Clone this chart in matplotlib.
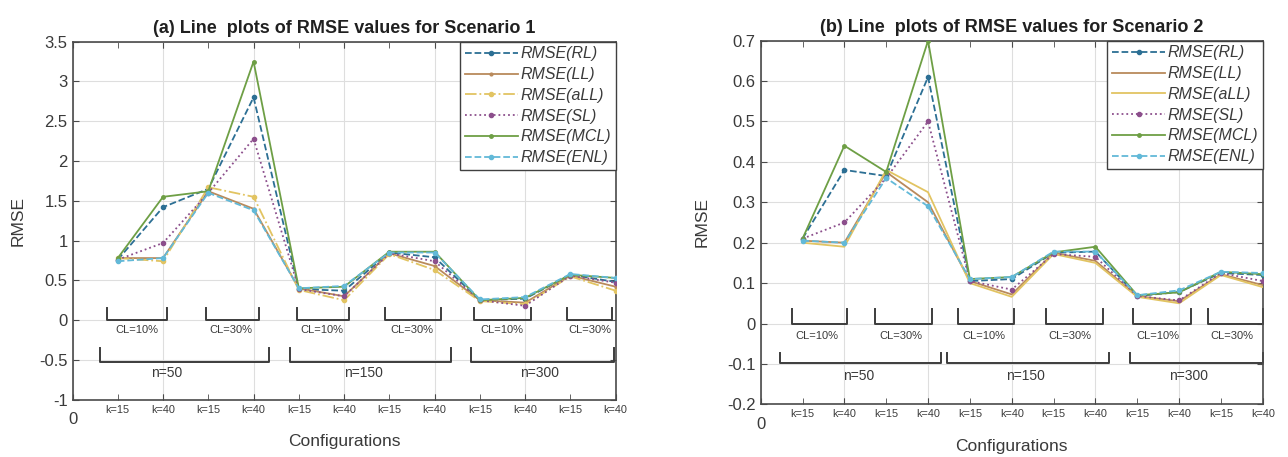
from __future__ import annotations

import numpy as np
import matplotlib
matplotlib.use("Agg")
import matplotlib.pyplot as plt
from matplotlib.ticker import FuncFormatter

plt.rcParams["font.family"] = ["Liberation Sans", "DejaVu Sans"]

# configurations 1..12: n=50/150/300 x CL=10%/30% x k=15/40
configs = np.arange(1, 13)
k_labels = ["k=15", "k=40"] * 6
series_names = ["RMSE(RL)", "RMSE(LL)", "RMSE(aLL)", "RMSE(SL)", "RMSE(MCL)", "RMSE(ENL)"]

# Scenario 1
s1_rl = [0.76, 1.42, 1.65, 2.80, 0.39, 0.37, 0.85, 0.79, 0.25, 0.27, 0.57, 0.48]
s1_ll = [0.78, 0.78, 1.62, 1.40, 0.40, 0.30, 0.84, 0.68, 0.25, 0.22, 0.56, 0.42]
s1_all = [0.78, 0.74, 1.67, 1.55, 0.38, 0.25, 0.83, 0.63, 0.24, 0.20, 0.55, 0.37]
s1_sl = [0.76, 0.97, 1.60, 2.28, 0.39, 0.30, 0.84, 0.74, 0.25, 0.18, 0.56, 0.47]
s1_mcl = [0.78, 1.55, 1.62, 3.25, 0.40, 0.42, 0.86, 0.86, 0.25, 0.28, 0.57, 0.53]
s1_enl = [0.74, 0.78, 1.60, 1.38, 0.40, 0.43, 0.85, 0.85, 0.26, 0.29, 0.58, 0.53]

# Scenario 2
s2_rl = [0.21, 0.38, 0.365, 0.61, 0.105, 0.11, 0.175, 0.178, 0.068, 0.078, 0.125, 0.12]
s2_ll = [0.205, 0.20, 0.375, 0.30, 0.105, 0.072, 0.175, 0.155, 0.068, 0.055, 0.122, 0.095]
s2_all = [0.20, 0.19, 0.38, 0.325, 0.10, 0.066, 0.172, 0.15, 0.066, 0.05, 0.12, 0.09]
s2_sl = [0.21, 0.25, 0.36, 0.50, 0.105, 0.084, 0.172, 0.165, 0.068, 0.057, 0.125, 0.105]
s2_mcl = [0.21, 0.44, 0.375, 0.70, 0.11, 0.115, 0.176, 0.19, 0.07, 0.077, 0.128, 0.122]
s2_enl = [0.205, 0.20, 0.36, 0.29, 0.11, 0.115, 0.178, 0.178, 0.07, 0.082, 0.128, 0.125]

cl_labels = ["CL=10%", "CL=30%"] * 3
n_labels = ["n=50", "n=150", "n=300"]

COLORS = ["#2c6f94", "#b98a5c", "#e2c462", "#8c4f8c", "#6e9f45", "#62b9d8"]
AXIS_COLOR = "#4a4a4a"
TEXT_COLOR = "#3a3a3a"


def draw_bracket(ax, x0, x1, top, base):
    ax.plot([x0, x0, x1, x1], [top, base, base, top], color="#3c3c3c",
            lw=1.4, clip_on=False, zorder=1)


def plot_panel(ax, data, styles, title, ylim, ystep, cl_spec, n_spec, ylabel_x):
    for vals, name, color, (ls, ms) in zip(data, series_names, COLORS, styles):
        ax.plot(configs, vals, linestyle=ls, color=color, lw=1.3,
                marker="." if ms else None, markersize=ms,
                markerfacecolor=color, markeredgecolor=color, label=name, zorder=3)

    ax.set_xlim(0, 12)
    ax.set_ylim(*ylim)
    ax.set_yticks(np.arange(ylim[0], ylim[1] + ystep / 2, ystep))
    ax.yaxis.set_major_formatter(FuncFormatter(lambda v, p: f"{round(v, 3):g}"))

    ax.set_xticks(np.arange(0, 13, 2))
    ax.set_xticklabels(["0"] + [""] * 6)
    ax.xaxis.remove_overlapping_locs = False
    ax.set_xticks(configs, minor=True)
    ax.set_xticklabels(k_labels, minor=True)

    ax.grid(True, which="major", color="#dedede", lw=0.8)
    ax.set_axisbelow(True)
    ax.tick_params(which="both", direction="in", top=True, right=True,
                   color=AXIS_COLOR, labelcolor=TEXT_COLOR, length=4)
    ax.tick_params(axis="y", labelsize=12)
    ax.tick_params(axis="x", which="major", labelsize=12, pad=9)
    ax.tick_params(axis="x", which="minor", labelsize=7.8, pad=3.5)
    for sp in ax.spines.values():
        sp.set_color(AXIS_COLOR)
        sp.set_linewidth(1.2)

    # configuration brackets
    (cl_spans, cl_top, cl_base, cl_x, cl_y) = cl_spec
    for (x0, x1), lx, lab in zip(cl_spans, cl_x, cl_labels):
        draw_bracket(ax, x0, x1, cl_top, cl_base)
        ax.text(lx, cl_y, lab, ha="center", va="center", fontsize=8, color=TEXT_COLOR)
    (n_spans, n_top, n_base, n_x, n_y) = n_spec
    for (x0, x1), lx, lab in zip(n_spans, n_x, n_labels):
        draw_bracket(ax, x0, x1, n_top, n_base)
        ax.text(lx, n_y, lab, ha="center", va="center", fontsize=10, color=TEXT_COLOR)

    ax.set_title(title, fontsize=13, fontweight="bold", color="#202020", pad=6)
    ax.set_ylabel("RMSE", fontsize=12.5, color=TEXT_COLOR)
    ax.yaxis.set_label_coords(ylabel_x, 0.5)
    ax.set_xlabel("Configurations", fontsize=12.5, color=TEXT_COLOR, labelpad=5)

    leg = ax.legend(loc="upper right", borderaxespad=0,
                    prop={"style": "italic", "size": 11.5}, handlelength=3.3,
                    handletextpad=0.15, borderpad=0.3, labelspacing=0.36,
                    fancybox=False, framealpha=1)
    leg.get_frame().set_edgecolor("#404040")
    leg.get_frame().set_linewidth(1.0)
    for t in leg.get_texts():
        t.set_color(TEXT_COLOR)


def main() -> None:
    fig = plt.figure(figsize=(12.88, 4.57), dpi=100)
    ax1 = fig.add_axes([0.0563, 0.1254, 0.4217, 0.7834])
    ax2 = fig.add_axes([0.5906, 0.1153, 0.3898, 0.7957])

    styles1 = [("--", 6), ("-", 4), ("-.", 6), (":", 6), ("-", 5), ("--", 6)]
    styles2 = [("--", 6), ("-", 0), ("-", 0), (":", 6), ("-", 5), ("--", 6)]

    cl1 = ([(0.76, 2.08), (2.95, 4.11), (4.95, 6.11), (6.9, 8.14), (8.86, 10.13), (10.93, 11.93)],
           0.15, 0.0, [1.42, 3.49, 5.52, 7.5, 9.48, 11.43], -0.13)
    n1 = ([(0.61, 4.33), (4.8, 8.37), (8.81, 11.96)], -0.35, -0.52, [2.08, 6.43, 10.32], -0.66)
    cl2 = ([(0.74, 2.07), (2.73, 4.09), (4.72, 6.06), (6.81, 8.18), (8.91, 10.28), (10.68, 12.0)],
           0.037, 0.0, [1.35, 3.36, 5.33, 7.4, 9.5, 11.25], -0.03)
    n2 = ([(0.46, 4.31), (4.46, 8.32), (8.82, 12.0)], -0.073, -0.099, [2.33, 6.33, 10.23], -0.13)

    plot_panel(ax1, [s1_rl, s1_ll, s1_all, s1_sl, s1_mcl, s1_enl], styles1,
               "(a) Line  plots of RMSE values for Scenario 1", (-1, 3.5), 0.5, cl1, n1, -0.087)
    plot_panel(ax2, [s2_rl, s2_ll, s2_all, s2_sl, s2_mcl, s2_enl], styles2,
               "(b) Line  plots of RMSE values for Scenario 2", (-0.2, 0.7), 0.1, cl2, n2, -0.101)

    fig.savefig("out.png", dpi=100)
    plt.close(fig)


if __name__ == "__main__":
    main()
